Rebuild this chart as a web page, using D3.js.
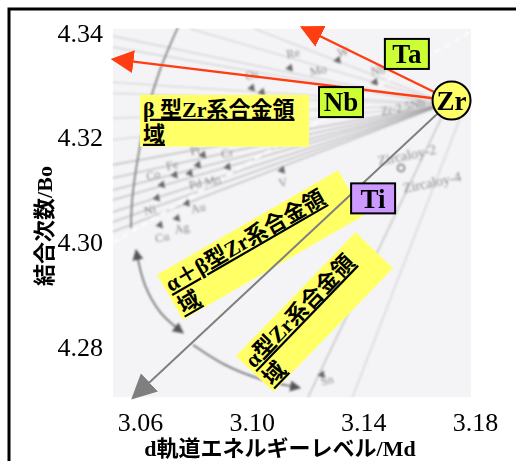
<!DOCTYPE html>
<html>
<head>
<meta charset="utf-8">
<script src="https://cdn.jsdelivr.net/npm/d3@7"></script>
<style>
  body { margin: 0; background: #fff; }
  svg { display: block; }
  text { font-family: "Liberation Serif", "Noto Sans CJK JP", serif; }
</style>
</head>
<body>
<div id="chart"></div>
<script>
// axis ticks
const xTicks = [3.06, 3.10, 3.14, 3.18];
const yTicks = [4.28, 4.30, 4.32, 4.34];
// extent of the scanned diagram behind the marks
const xExtent = [3.0503, 3.1786];
const yExtent = [4.2704, 4.3408];

// Zr and the alloying vectors
const zrPoint = [3.1716, 4.3271];
const vectorNames = ["Ta", "Nb", "Ti"];
const vectorTips = [[3.118, 4.3411], [3.0503, 4.3350], [3.0575, 4.2703]];
const vectorLabelAt = [[3.1556, 4.3360], [3.1320, 4.3268], [3.1435, 4.3084]];

// phase region labels (first line, second line) and their top-left corners
const regionLines = [["β 型Zr系合金領", "域"], ["α＋β型Zr系合金領", "域"], ["α型Zr系合金領", "域"]];
const regionCorners = [[3.06, 4.3282], [3.0661, 4.2938], [3.0944, 4.2783]];

// scanned background: fan of vectors from Zr ending at the left edge
const fanEnds = [4.3394, 4.3373, 4.3306, 4.3285, 4.3237, 4.3196, 4.3148, 4.3123,
                 4.3100, 4.3081, 4.3058, 4.3039, 4.3020];
const topEnds = [3.0780, 3.1010];
const scanNames = ["Re", "Mo", "W", "Nb", "Os", "Pt", "Cr", "Fe", "Co", "Pd Mn", "Ni",
                   "Au", "Cu", "Ag", "V", "Zr-2.5Nb", "Zircaloy-2", "Zircaloy-4", "Sn"];
const scanNameX = [3.1148, 3.1238, 3.1327, 3.1453, 3.1001, 3.0797, 3.0912, 3.0715, 3.0647,
                   3.0833, 3.0636, 3.0808, 3.0679, 3.0750, 3.1112, 3.1542, 3.1556, 3.1646, 3.1270];
const scanNameY = [4.3362, 4.3329, 4.3364, 4.3329, 4.3320, 4.3176, 4.3171, 4.3148, 4.3129,
                   4.3115, 4.3062, 4.3066, 4.3010, 4.3027, 4.3115, 4.3259, 4.3167, 4.3115, 4.2737];
const scanMarks = [[3.1137, 4.3333], [3.1001, 4.3295], [3.1037, 4.3287], [3.1309, 4.3348],
                   [3.1442, 4.3306], [3.0826, 4.3167], [3.0915, 4.3144], [3.0725, 4.3129],
                   [3.0779, 4.3132], [3.0808, 4.3148], [3.0679, 4.3110], [3.0661, 4.3085],
                   [3.0768, 4.3075], [3.0672, 4.3033], [3.0733, 4.3046], [3.1109, 4.3138],
                   [3.1252, 4.2747]];
const zircaloyMark = [3.1535, 4.3142];
const dashedBorder = [[3.0503, 4.2999], [3.1782, 4.3402]];
const downLines = [[[3.1693, 4.3253], [3.1202, 4.2704]], [[3.1764, 4.3262], [3.1361, 4.2704]]];
const topArc = [[3.0736, 4.3411], [3.0672, 4.3330], [3.0626, 4.3250], [3.0592, 4.3160],
                [3.0572, 4.3081], [3.0568, 4.3027]];
const sideArc = [[3.0586, 4.2985], [3.0618, 4.2918], [3.0672, 4.2867], [3.0754, 4.2827]];
const bottomArc = [[3.0790, 4.2804], [3.0904, 4.2766], [3.1030, 4.2739], [3.1173, 4.2722]];

const W = 516, H = 461;
const x = d3.scaleLinear().domain([3.06, 3.18]).range([140, 475]);
const y = d3.scaleLinear().domain([4.28, 4.34]).range([347, 33]);

const svg = d3.select("#chart").append("svg")
  .attr("width", W)
  .attr("height", H);

const defs = svg.append("defs");
defs.append("filter").attr("id", "scanBlur")
  .append("feGaussianBlur").attr("stdDeviation", 0.8);
defs.append("clipPath").attr("id", "panelClip")
  .append("rect")
  .attr("x", x(xExtent[0])).attr("y", y(yExtent[1]))
  .attr("width", x(xExtent[1]) - x(xExtent[0]))
  .attr("height", y(yExtent[0]) - y(yExtent[1]));

function addMarker(id, color, size) {
  defs.append("marker")
    .attr("id", id)
    .attr("viewBox", "0 0 10 10")
    .attr("refX", 9).attr("refY", 5)
    .attr("markerUnits", "userSpaceOnUse")
    .attr("markerWidth", size).attr("markerHeight", size)
    .attr("orient", "auto-start-reverse")
    .append("path")
    .attr("d", "M0,0L10,5L0,10z")
    .attr("fill", color);
}
addMarker("redHead", "#ff3d12", 23);
addMarker("greyHead", "#7f7f7f", 25);
addMarker("scanHead", "#555", 11);

// outer frame
svg.append("rect")
  .attr("x", 9).attr("y", 9)
  .attr("width", W).attr("height", H)
  .attr("fill", "none")
  .attr("stroke", "#000")
  .attr("stroke-width", 3);

// scanned diagram
svg.append("rect")
  .attr("x", x(xExtent[0])).attr("y", y(yExtent[1]))
  .attr("width", x(xExtent[1]) - x(xExtent[0]))
  .attr("height", y(yExtent[0]) - y(yExtent[1]))
  .attr("fill", "#f4f4f7");

const scan = svg.append("g")
  .attr("clip-path", "url(#panelClip)")
  .append("g")
  .attr("filter", "url(#scanBlur)");

scan.selectAll(".fan").data(fanEnds).join("line")
  .attr("class", "fan")
  .attr("x1", x(zrPoint[0]) - 8).attr("y1", y(zrPoint[1]) + 4)
  .attr("x2", x(xExtent[0])).attr("y2", (d) => y(d))
  .attr("stroke", "#8c8c8c")
  .attr("stroke-width", (d, i) => (i > 5 ? 1.6 : 1.1))
  .attr("opacity", (d, i) => (i > 5 ? 0.45 : 0.35));

scan.selectAll(".topfan").data(topEnds).join("line")
  .attr("class", "topfan")
  .attr("x1", x(zrPoint[0]) - 8).attr("y1", y(zrPoint[1]) + 2)
  .attr("x2", (d) => x(d)).attr("y2", y(yExtent[1]))
  .attr("stroke", "#8c8c8c")
  .attr("stroke-width", 1.1)
  .attr("opacity", 0.35);

scan.selectAll(".down").data(downLines).join("line")
  .attr("class", "down")
  .attr("x1", (d) => x(d[0][0])).attr("y1", (d) => y(d[0][1]))
  .attr("x2", (d) => x(d[1][0])).attr("y2", (d) => y(d[1][1]))
  .attr("stroke", "#a0a0a0")
  .attr("stroke-width", 1.2)
  .attr("opacity", (d, i) => (i ? 0.4 : 0.7));

scan.append("line")
  .attr("x1", x(dashedBorder[0][0])).attr("y1", y(dashedBorder[0][1]))
  .attr("x2", x(dashedBorder[1][0])).attr("y2", y(dashedBorder[1][1]))
  .attr("stroke", "#fff")
  .attr("stroke-width", 1.8)
  .attr("stroke-dasharray", "7,4");

const curve = d3.line()
  .x((d) => x(d[0]))
  .y((d) => y(d[1]))
  .curve(d3.curveCatmullRom);

scan.append("path").attr("d", curve(topArc))
  .attr("fill", "none").attr("stroke", "#777").attr("stroke-width", 1.6);
scan.append("path").attr("d", curve(sideArc))
  .attr("fill", "none").attr("stroke", "#666").attr("stroke-width", 1.6)
  .attr("marker-start", "url(#scanHead)")
  .attr("marker-end", "url(#scanHead)");
scan.append("path").attr("d", curve(bottomArc))
  .attr("fill", "none").attr("stroke", "#666").attr("stroke-width", 1.6)
  .attr("marker-end", "url(#scanHead)");

scan.selectAll(".mark").data(scanMarks).join("path")
  .attr("class", "mark")
  .attr("transform", (d) => `translate(${x(d[0])},${y(d[1])}) rotate(20)`)
  .attr("d", d3.symbol(d3.symbolTriangle, 28))
  .attr("fill", "#666");

scan.append("circle")
  .attr("cx", x(zircaloyMark[0])).attr("cy", y(zircaloyMark[1]))
  .attr("r", 3.5)
  .attr("fill", "none").attr("stroke", "#777").attr("stroke-width", 1.5);

scan.selectAll(".sname").data(scanNames).join("text")
  .attr("class", "sname")
  .attr("x", (d, i) => x(scanNameX[i]))
  .attr("y", (d, i) => y(scanNameY[i]))
  .attr("text-anchor", "middle")
  .attr("dy", "0.35em")
  .attr("font-size", (d) => (d.startsWith("Zirc") ? 14 : 12))
  .attr("fill", "#8a8a8a")
  .attr("transform", (d, i) => `rotate(-12,${x(scanNameX[i])},${y(scanNameY[i])})`)
  .text((d) => d);

// phase region labels
const regionAngle = [0, -30, -46];
const regionWidth = [169, 209, 172];
const regions = svg.selectAll(".region").data(regionLines).join("g")
  .attr("class", "region")
  .attr("transform", (d, i) =>
    `translate(${x(regionCorners[i][0])},${y(regionCorners[i][1])}) rotate(${regionAngle[i]})`);
regions.append("rect")
  .attr("width", (d, i) => regionWidth[i])
  .attr("height", 52)
  .attr("fill", "#ffff66");
regions.selectAll("text").data((d) => d).join("text")
  .attr("x", 3)
  .attr("y", (d, i) => 22 + i * 25)
  .attr("font-size", 22)
  .attr("font-weight", "bold")
  .attr("text-decoration", "underline")
  .attr("fill", "#000")
  .text((d) => d);

// vectors from Zr
svg.selectAll(".vector").data(vectorTips).join("line")
  .attr("class", "vector")
  .attr("x1", x(zrPoint[0])).attr("y1", y(zrPoint[1]))
  .attr("x2", (d) => x(d[0])).attr("y2", (d) => y(d[1]))
  .attr("stroke", (d, i) => (i < 2 ? "#ff3d12" : "#7f7f7f"))
  .attr("stroke-width", (d, i) => (i < 2 ? 2.4 : 2))
  .attr("marker-end", (d, i) => (i < 2 ? "url(#redHead)" : "url(#greyHead)"));

const tags = svg.selectAll(".tag").data(vectorNames).join("g")
  .attr("class", "tag")
  .attr("transform", (d, i) => `translate(${x(vectorLabelAt[i][0])},${y(vectorLabelAt[i][1])})`);
tags.append("rect")
  .attr("x", -22).attr("y", -15)
  .attr("width", 44).attr("height", 30)
  .attr("fill", (d) => (d === "Ti" ? "#cc99ff" : "#ccff33"))
  .attr("stroke", "#000")
  .attr("stroke-width", 2);
tags.append("text")
  .attr("text-anchor", "middle")
  .attr("dy", "0.34em")
  .attr("font-size", 27)
  .attr("font-weight", "bold")
  .text((d) => d);

// Zr
const zr = svg.append("g")
  .attr("transform", `translate(${x(zrPoint[0])},${y(zrPoint[1])})`);
zr.append("circle")
  .attr("r", 19)
  .attr("fill", "#ffff66")
  .attr("stroke", "#000")
  .attr("stroke-width", 2);
zr.append("text")
  .attr("text-anchor", "middle")
  .attr("dy", "0.34em")
  .attr("font-size", 27)
  .attr("font-weight", "bold")
  .text("Zr");

// axes
const xAxis = svg.append("g")
  .attr("transform", `translate(0,${y(yExtent[0])})`)
  .call(d3.axisBottom(x).tickValues(xTicks).tickFormat(d3.format(".2f")).tickSize(0).tickPadding(15));
const yAxis = svg.append("g")
  .attr("transform", `translate(${x(xExtent[0])},0)`)
  .call(d3.axisLeft(y).tickValues(yTicks).tickFormat(d3.format(".2f")).tickSize(0).tickPadding(10));
[xAxis, yAxis].forEach((g) => {
  g.select(".domain").remove();
  g.selectAll("text")
    .attr("font-family", "Liberation Serif")
    .attr("font-size", 26)
    .attr("fill", "#000");
});

svg.append("text")
  .attr("x", 280).attr("y", 456)
  .attr("text-anchor", "middle")
  .attr("font-size", 22)
  .attr("font-weight", "bold")
  .text("d軌道エネルギーレベル/Md");

svg.append("text")
  .attr("transform", "translate(52,226) rotate(-90)")
  .attr("text-anchor", "middle")
  .attr("font-size", 22)
  .attr("font-weight", "bold")
  .text("結合次数/Bo");
</script>
</body>
</html>
